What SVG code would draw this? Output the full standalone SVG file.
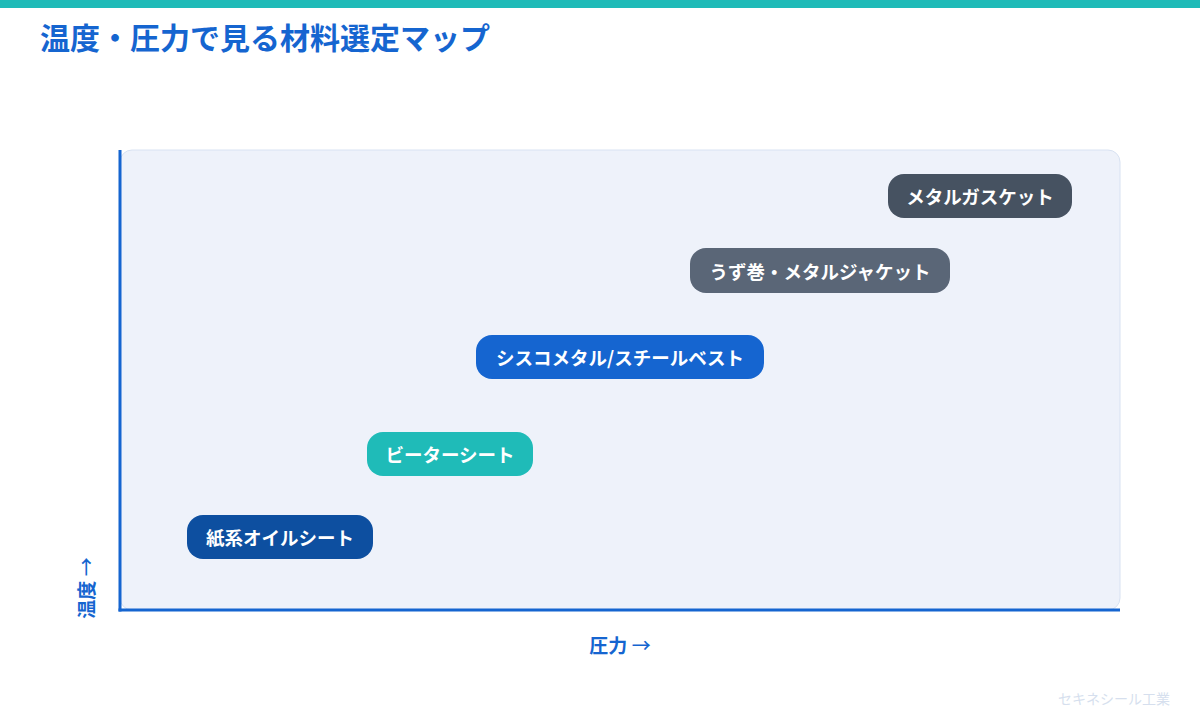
<svg xmlns="http://www.w3.org/2000/svg" width="1200" height="720" viewBox="0 0 1200 720">
<style>
.t{font-family:"Noto Sans CJK JP","Noto Sans",sans-serif;font-weight:700}
.lbl{font-family:"Noto Sans CJK JP","Noto Sans",sans-serif;font-weight:700;font-size:18.5px;fill:#fff;text-anchor:middle;dominant-baseline:central}
.ax{font-family:"Noto Sans CJK JP","Noto Sans",sans-serif;font-weight:700;font-size:19px;fill:#1565D0;text-anchor:middle}
.ar{font-weight:500}
</style>
<rect x="0" y="0" width="1200" height="720" fill="#fff"/>
<rect x="0" y="0" width="1200" height="8" fill="#1FBBB8"/>
<text class="t" x="40" y="49" font-size="30" fill="#1565D0">温度・圧力で見る材料選定マップ</text>
<rect x="120" y="150" width="1000" height="460" rx="12" fill="#EEF2FA" stroke="#D8E2F2" stroke-width="1"/>
<g id="axes" stroke="#1565D0" stroke-width="3" fill="none">
<line x1="120" y1="150" x2="120" y2="611.5"/>
<line x1="118.5" y1="610" x2="1120" y2="610"/>
</g>
<text class="ax" x="620" y="653">圧力 <tspan class="ar">→</tspan></text>
<text class="ax" transform="translate(94,588) rotate(-90)">温度 <tspan class="ar">→</tspan></text>
<g id="n1"><rect x="888" y="174" width="184" height="44" rx="16" fill="#465261"/><text class="lbl" x="980" y="196">メタルガスケット</text></g>
<g id="n2"><rect x="690" y="248" width="260" height="45" rx="16" fill="#5A6677"/><text class="lbl" x="820" y="270.5">うず巻・メタルジャケット</text></g>
<g id="n3"><rect x="476" y="335" width="288" height="44" rx="16" fill="#1565D0"/><text class="lbl" x="620" y="357">シスコメタル/スチールベスト</text></g>
<g id="n4"><rect x="367" y="432" width="166" height="44" rx="16" fill="#1FBBB8"/><text class="lbl" x="450" y="454">ビーターシート</text></g>
<g id="n5"><rect x="187" y="515" width="186" height="44" rx="16" fill="#0D4FA0"/><text class="lbl" x="280" y="537">紙系オイルシート</text></g>
<g id="connectors"></g>
<text x="1170" y="704" font-family="'Noto Sans CJK JP','Noto Sans',sans-serif" font-size="14" fill="#D6DFEE" text-anchor="end">セキネシール工業</text>
</svg>
